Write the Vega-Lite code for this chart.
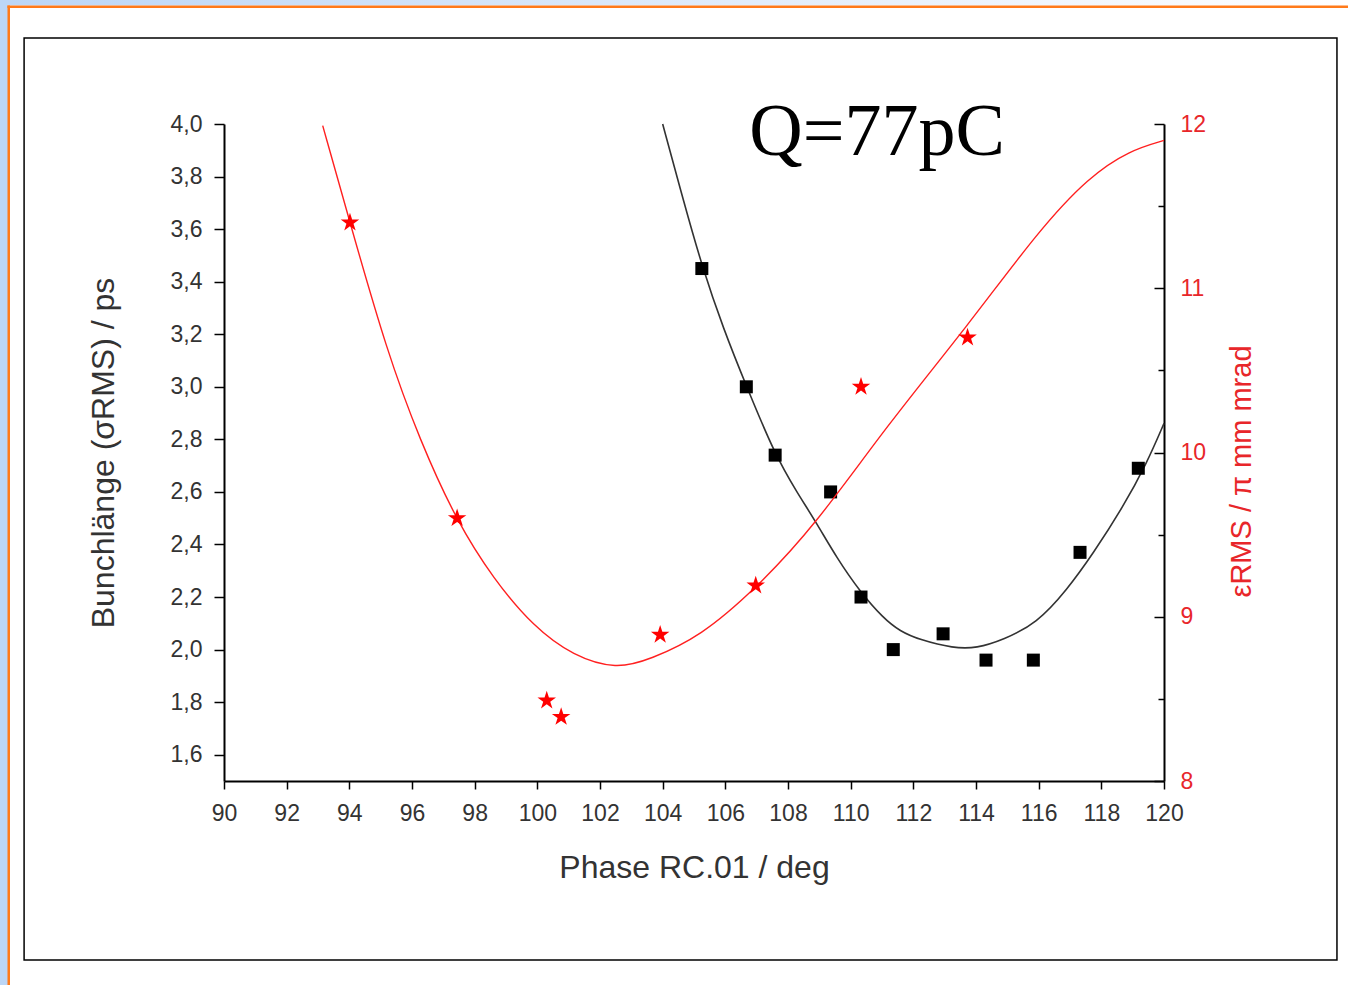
{
  "$schema": "https://vega.github.io/schema/vega-lite/v6.json",
  "width": 940,
  "height": 657,
  "autosize": {"type": "none"},
  "padding": {"left": 224, "top": 124, "right": 184, "bottom": 204},
  "background": "white",
  "config": {
    "view": {"stroke": null},
    "axis": {
      "labelFont": "Liberation Sans",
      "titleFont": "Liberation Sans",
      "domainColor": "black",
      "tickColor": "black",
      "labelColor": "#333333",
      "titleColor": "#333333",
      "titleFontWeight": "normal",
      "domainWidth": 2,
      "tickWidth": 1.5,
      "grid": false,
      "labelFontSize": 23,
      "titleFontSize": 32
    }
  },
  "datasets": {
    "black_fit": [
      {"phase": 104.0, "value": 4.0},
      {"phase": 104.66, "value": 3.71},
      {"phase": 105.25, "value": 3.46},
      {"phase": 105.94, "value": 3.22},
      {"phase": 106.68, "value": 3.0},
      {"phase": 107.59, "value": 2.74},
      {"phase": 108.28, "value": 2.6},
      {"phase": 108.92, "value": 2.48},
      {"phase": 109.55, "value": 2.35},
      {"phase": 110.3, "value": 2.22},
      {"phase": 111.04, "value": 2.12},
      {"phase": 111.57, "value": 2.07},
      {"phase": 112.21, "value": 2.037},
      {"phase": 113.28, "value": 2.005},
      {"phase": 114.02, "value": 2.005},
      {"phase": 114.87, "value": 2.037},
      {"phase": 115.94, "value": 2.1},
      {"phase": 116.9, "value": 2.227},
      {"phase": 117.74, "value": 2.366},
      {"phase": 118.7, "value": 2.544},
      {"phase": 119.45, "value": 2.709},
      {"phase": 120.0, "value": 2.861}
    ],
    "black_pts": [
      {"phase": 105.25, "value": 3.45},
      {"phase": 106.67, "value": 3.0},
      {"phase": 107.59, "value": 2.74},
      {"phase": 109.36, "value": 2.6},
      {"phase": 110.33, "value": 2.2},
      {"phase": 111.36, "value": 2.0},
      {"phase": 112.95, "value": 2.06},
      {"phase": 114.32, "value": 1.96},
      {"phase": 115.83, "value": 1.96},
      {"phase": 117.32, "value": 2.37},
      {"phase": 119.18, "value": 2.69}
    ],
    "red_fit": [
      {"phase": 93.15, "value": 11.99},
      {"phase": 94.02, "value": 11.4},
      {"phase": 95.19, "value": 10.62},
      {"phase": 96.26, "value": 10.07},
      {"phase": 97.43, "value": 9.58},
      {"phase": 98.6, "value": 9.23},
      {"phase": 99.87, "value": 8.94},
      {"phase": 101.15, "value": 8.76},
      {"phase": 102.53, "value": 8.68},
      {"phase": 103.6, "value": 8.74},
      {"phase": 105.21, "value": 8.88},
      {"phase": 106.97, "value": 9.17},
      {"phase": 108.88, "value": 9.56},
      {"phase": 111.14, "value": 10.16},
      {"phase": 113.73, "value": 10.77},
      {"phase": 115.99, "value": 11.35},
      {"phase": 117.61, "value": 11.68},
      {"phase": 118.91, "value": 11.84},
      {"phase": 120.0, "value": 11.9}
    ],
    "red_pts": [
      {"phase": 94.02, "value": 11.4},
      {"phase": 97.44, "value": 9.6},
      {"phase": 100.3, "value": 8.49},
      {"phase": 100.76, "value": 8.39},
      {"phase": 103.92, "value": 8.89},
      {"phase": 106.97, "value": 9.19},
      {"phase": 110.33, "value": 10.4},
      {"phase": 113.73, "value": 10.7}
    ]
  },
  "layer": [
    {
      "layer": [
        {
          "data": {"values": [{}]},
          "mark": {"type": "rect", "fill": "#bcd6f6"},
          "encoding": {
            "x": {"datum": 82.851, "type": "quantitative"},
            "x2": {"datum": 83.106},
            "y": {"datum": 4.4718, "type": "quantitative"},
            "y2": {"datum": 0.7237}
          }
        },
        {
          "data": {"values": [{}]},
          "mark": {
            "type": "rect",
            "fill": {"gradient": "linear", "x1": 0, "x2": 1, "y1": 0, "y2": 0, "stops": [{"offset": 0, "color": "#bcd6f6"}, {"offset": 1, "color": "#ffffff"}]}
          },
          "encoding": {
            "x": {"datum": 83.106, "type": "quantitative"},
            "x2": {"datum": 125.872},
            "y": {"datum": 4.4718, "type": "quantitative"},
            "y2": {"datum": 4.4509}
          }
        },
        {
          "data": {"values": [{}]},
          "mark": {"type": "rect", "fill": "#ff7a1a"},
          "encoding": {
            "x": {"datum": 83.09, "type": "quantitative"},
            "x2": {"datum": 83.17},
            "y": {"datum": 4.4509, "type": "quantitative"},
            "y2": {"datum": 0.7237}
          }
        },
        {
          "data": {"values": [{}]},
          "mark": {"type": "rect", "fill": "#ff7a1a"},
          "encoding": {
            "x": {"datum": 83.09, "type": "quantitative"},
            "x2": {"datum": 125.872},
            "y": {"datum": 4.4509, "type": "quantitative"},
            "y2": {"datum": 4.4414}
          }
        },
        {
          "data": {"values": [{}]},
          "mark": {"type": "rect", "filled": false, "stroke": "black", "strokeWidth": 1.5},
          "encoding": {
            "x": {"datum": 83.62, "type": "quantitative"},
            "x2": {"datum": 125.52},
            "y": {"datum": 4.327, "type": "quantitative"},
            "y2": {"datum": 0.819}
          }
        },
        {
          "data": {"name": "black_fit"},
          "mark": {"type": "line", "color": "#333333", "strokeWidth": 1.6, "interpolate": "basis"},
          "encoding": {
            "x": {
              "field": "phase", "type": "quantitative",
              "scale": {"domain": [90, 120], "nice": false, "zero": false},
              "axis": {
                "values": [90, 91, 92, 93, 94, 95, 96, 97, 98, 99, 100, 101, 102, 103, 104, 105, 106, 107, 108, 109, 110, 111, 112, 113, 114, 115, 116, 117, 118, 119, 120],
                "labelExpr": "datum.value % 2 === 0 ? datum.label : ''",
                "title": "Phase RC.01 / deg",
                "tickSize": {"condition": {"test": "datum.value % 2 === 0", "value": 8}, "value": 6},
                "labelPadding": 13,
                "titlePadding": 27,
                "labelFlush": false,
                "labelOverlap": false
              }
            },
            "y": {
              "field": "value", "type": "quantitative",
              "scale": {"domain": [1.5, 4], "nice": false, "zero": false},
              "axis": {
                "orient": "left",
                "values": [1.6, 1.8, 2.0, 2.2, 2.4, 2.6, 2.8, 3.0, 3.2, 3.4, 3.6, 3.8, 4.0],
                "labelExpr": "replace(format(datum.value, '.1f'), '.', ',')",
                "title": "Bunchlänge (σRMS) / ps",
                "tickSize": 10,
                "labelPadding": 12,
                "titlePadding": 50,
                "labelFlush": false,
                "labelOverlap": false
              }
            }
          }
        },
        {
          "data": {"name": "black_pts"},
          "mark": {"type": "point", "shape": "square", "filled": true, "color": "black", "size": 169, "opacity": 1},
          "encoding": {
            "x": {"field": "phase", "type": "quantitative"},
            "y": {"field": "value", "type": "quantitative"}
          }
        },
        {
          "data": {"values": [{}]},
          "mark": {"type": "text", "text": "Q=77pC", "font": "Liberation Serif", "fontSize": 74, "align": "center", "baseline": "alphabetic", "color": "black"},
          "encoding": {
            "x": {"datum": 110.84, "type": "quantitative"},
            "y": {"datum": 3.882, "type": "quantitative"}
          }
        }
      ]
    },
    {
      "layer": [
        {
          "data": {"name": "red_fit"},
          "mark": {"type": "line", "color": "#ff2020", "strokeWidth": 1.4, "interpolate": "basis"},
          "encoding": {
            "x": {"field": "phase", "type": "quantitative"},
            "y": {
              "field": "value", "type": "quantitative",
              "scale": {"domain": [8, 12], "nice": false, "zero": false},
              "axis": {
                "orient": "right",
                "values": [8, 8.5, 9, 9.5, 10, 10.5, 11, 11.5, 12],
                "labelExpr": "datum.value % 1 === 0 ? format(datum.value, 'd') : ''",
                "title": "εRMS / π mm mrad",
                "titleAngle": 270,
                "titleBaseline": "top",
                "titleFontSize": 29,
                "titleY": 347,
                "titleColor": "#e8262a",
                "labelColor": "#e8262a",
                "tickSize": {"condition": {"test": "datum.value % 1 === 0", "value": -10}, "value": -6},
                "labelPadding": 26,
                "titlePadding": 22,
                "labelFlush": false,
                "labelOverlap": false
              }
            }
          }
        },
        {
          "data": {"name": "red_pts"},
          "mark": {"type": "point", "shape": "M0,-1L0.2245,-0.309L0.951,-0.309L0.363,0.118L0.588,0.809L0,0.382L-0.588,0.809L-0.363,0.118L-0.951,-0.309L-0.2245,-0.309Z", "filled": true, "color": "#ff0000", "size": 380, "opacity": 1},
          "encoding": {
            "x": {"field": "phase", "type": "quantitative"},
            "y": {"field": "value", "type": "quantitative"}
          }
        }
      ]
    }
  ],
  "resolve": {"scale": {"y": "independent"}}
}
